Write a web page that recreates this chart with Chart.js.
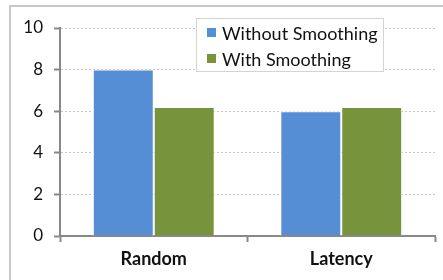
<!DOCTYPE html>
<html>
<head>
<meta charset="utf-8">
<script src="https://cdn.jsdelivr.net/npm/chart.js@4"></script>
<style>
  html, body { margin: 0; padding: 0; background: #fff; }
  #wrap { width: 443px; height: 280px; }
</style>
</head>
<body>
<div id="wrap"><canvas id="chart"></canvas></div>
<script>
// chart data
const categories = ["Random", "Latency"];
const seriesNames = ["Without Smoothing", "With Smoothing"];
const withoutSmoothing = [8.0, 6.0];
const withSmoothing = [6.2, 6.2];
const seriesColors = ["#558ED5", "#77933C"];
const yTicks = [0, 2, 4, 6, 8, 10];

const FONT = "Lato, 'Open Sans', sans-serif";

// outer frame like the office chart area
const framePlugin = {
    id: "frame",
    beforeDraw(chart) {
        const ctx = chart.ctx;
        ctx.save();
        ctx.strokeStyle = "#c8c8c8";
        ctx.lineWidth = 2;
        ctx.beginPath();
        ctx.moveTo(10, 290);
        ctx.lineTo(10, 6);
        ctx.lineTo(450, 6);
        ctx.stroke();
        ctx.restore();
    }
};

// legend box drawn inside the plot
const boxLegend = {
    id: "boxLegend",
    afterDatasetsDraw(chart) {
        const ctx = chart.ctx;
        const x = 196, y = 18, w = 187, h = 53;
        ctx.save();
        ctx.fillStyle = "#fff";
        ctx.fillRect(x, y, w, h);
        ctx.strokeStyle = "#d4d4d4";
        ctx.lineWidth = 1;
        ctx.strokeRect(x + 0.5, y + 0.5, w, h);
        ctx.beginPath();
        ctx.rect(x, y, w, h);
        ctx.clip();
        ctx.font = "18px " + FONT;
        ctx.textBaseline = "alphabetic";
        chart.data.datasets.forEach((ds, i) => {
            const base = 40 + i * 26;
            ctx.fillStyle = ds.backgroundColor;
            ctx.fillRect(207, base - 12, 9, 9);
            ctx.fillStyle = "#111";
            ctx.fillText(ds.label, 222, base);
        });
        ctx.restore();
    }
};

new Chart(document.getElementById("chart"), {
    type: "bar",
    data: {
        labels: categories,
        datasets: [
            {
                label: seriesNames[0],
                data: withoutSmoothing,
                backgroundColor: seriesColors[0],
                borderColor: "#fff",
                borderWidth: 1,
            },
            {
                label: seriesNames[1],
                data: withSmoothing,
                backgroundColor: seriesColors[1],
                borderColor: "#fff",
                borderWidth: 1,
            },
        ],
    },
    options: {
        responsive: true,
        maintainAspectRatio: false,
        animation: false,
        layout: { padding: { top: 28, right: 8, left: 0, bottom: 0 } },
        datasets: {
            bar: { categoryPercentage: 0.65, barPercentage: 1.0 },
        },
        plugins: {
            legend: { display: false },
            tooltip: { enabled: false },
        },
        scales: {
            x: {
                afterFit: (s) => { s.height = 44; },
                grid: {
                    offset: true,
                    drawOnChartArea: false,
                    drawTicks: true,
                    tickLength: 6,
                    tickColor: "#888",
                    tickWidth: 2,
                },
                border: { display: true, color: "#888", width: 2 },
                ticks: {
                    color: "#111",
                    padding: 6,
                    font: { family: FONT, size: 18, weight: "bold" },
                },
            },
            y: {
                min: 0,
                max: 10,
                afterFit: (s) => { s.width = 60; },
                afterBuildTicks: (s) => { s.ticks = yTicks.map((v) => ({ value: v })); },
                grid: {
                    color: "#c4c4c4",
                    lineWidth: 1,
                    tickLength: 6,
                    tickColor: "#888",
                    tickWidth: 2,
                },
                border: { display: true, color: "#888", width: 2, dash: [2, 2] },
                ticks: {
                    color: "#111",
                    padding: 11,
                    font: { family: FONT, size: 17 },
                },
            },
        },
    },
    plugins: [framePlugin, boxLegend],
});
</script>
</body>
</html>
